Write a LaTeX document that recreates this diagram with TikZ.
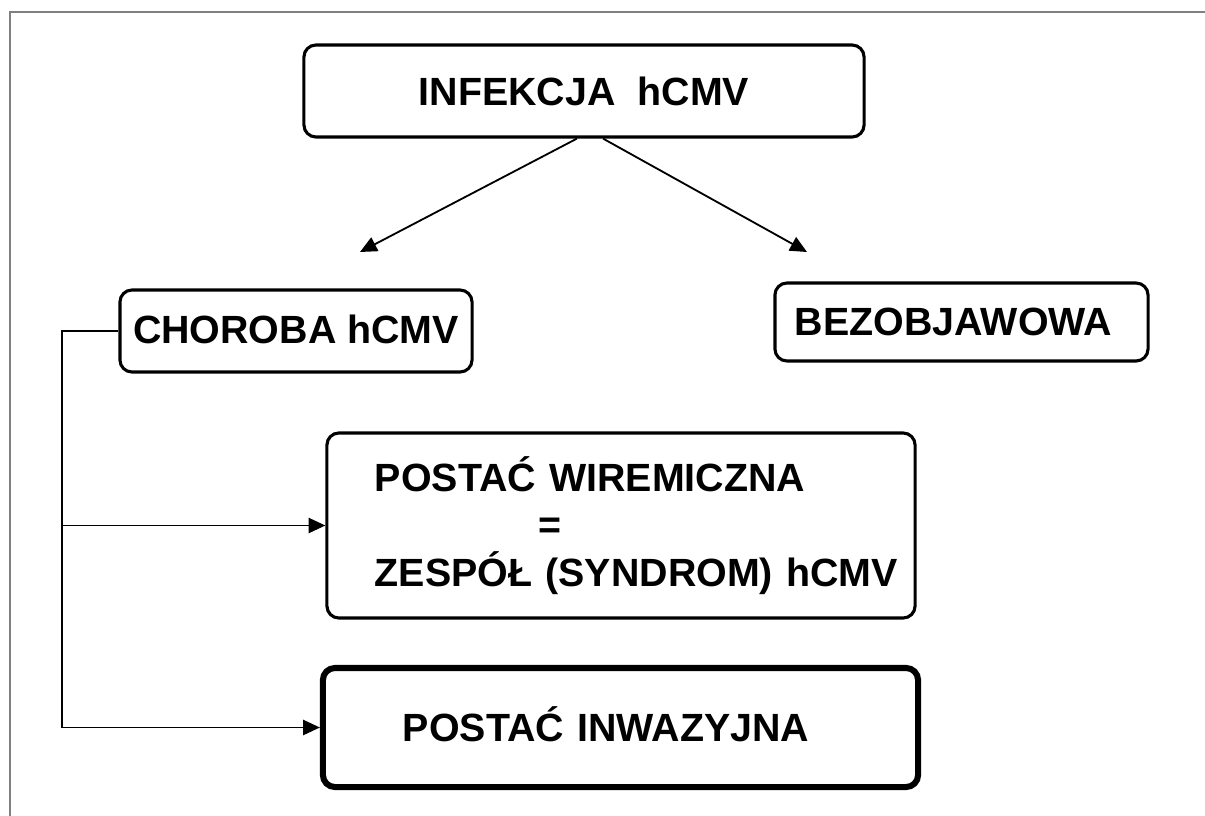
\documentclass[tikz,border=0pt]{standalone}
\usepackage{fontspec}
\setmainfont{Liberation Sans}
\usepackage{tikz}
\usetikzlibrary{arrows.meta, positioning, calc}
\definecolor{framegray}{RGB}{128, 128, 128}

\begin{document}
\begin{tikzpicture}[x=0.025cm, y=-0.025cm,
  box/.style={draw, line width=2.2pt, rounded corners=0.3cm, inner sep=0pt,
    font=\fontsize{28}{34}\selectfont\bfseries},
  link/.style={line width=1.3pt, -{Triangle[length=0.42cm, width=0.38cm]}}]
  \useasboundingbox (0,0) rectangle (1205,816);

  % Frame
  \draw[framegray, line width=1.5pt] (10,816) -- (10,12) -- (1205,12);

  % Boxes
  \node[box, minimum width=14cm, minimum height=2.3cm] (infekcja) at (584,91)
    {INFEKCJA~~hCMV};
  \node[box, minimum width=8.8cm, minimum height=2.05cm] (choroba) at (296,331)
    {\raisebox{2pt}{CHOROBA hCMV}};
  \node[box, minimum width=9.325cm, minimum height=1.95cm, text width=9.325cm,
    align=left] (bezobjawowa) at (961.5,322) {\hspace*{0.5cm}BEZOBJAWOWA};
  \node[box, minimum width=14.7cm, minimum height=4.625cm, text width=14.7cm,
    align=left] (wiremiczna) at (621,525.5)
    {\hspace*{1.2cm}POSTAĆ WIREMICZNA\\
     \hspace*{5.3cm}=\\
     \hspace*{1.2cm}ZESPÓŁ (SYNDROM) hCMV};
  \node[box, line width=4.3pt, minimum width=14.875cm, minimum height=2.975cm,
    text width=14.875cm, align=left] (inwazyjna) at (620.5,727.5)
    {\hspace*{2cm}\raisebox{5pt}{POSTAĆ INWAZYJNA}};

  % Branches
  \coordinate (lefttip) at (360,252);
  \coordinate (righttip) at (807,252);
  \draw[link] ($(infekcja.south)+(-7,0)$) -- (lefttip);
  \draw[link] ($(infekcja.south)+(19,0)$) -- (righttip);

  % Forms of disease
  \coordinate (spine) at (62,331);
  \draw[line width=1.3pt] (choroba.west) -- (spine) -- (spine |- inwazyjna.west);
  \draw[link] (spine |- wiremiczna.west) -- (wiremiczna.west);
  \draw[link] (spine |- inwazyjna.west) -- (inwazyjna.west);
\end{tikzpicture}
\end{document}
